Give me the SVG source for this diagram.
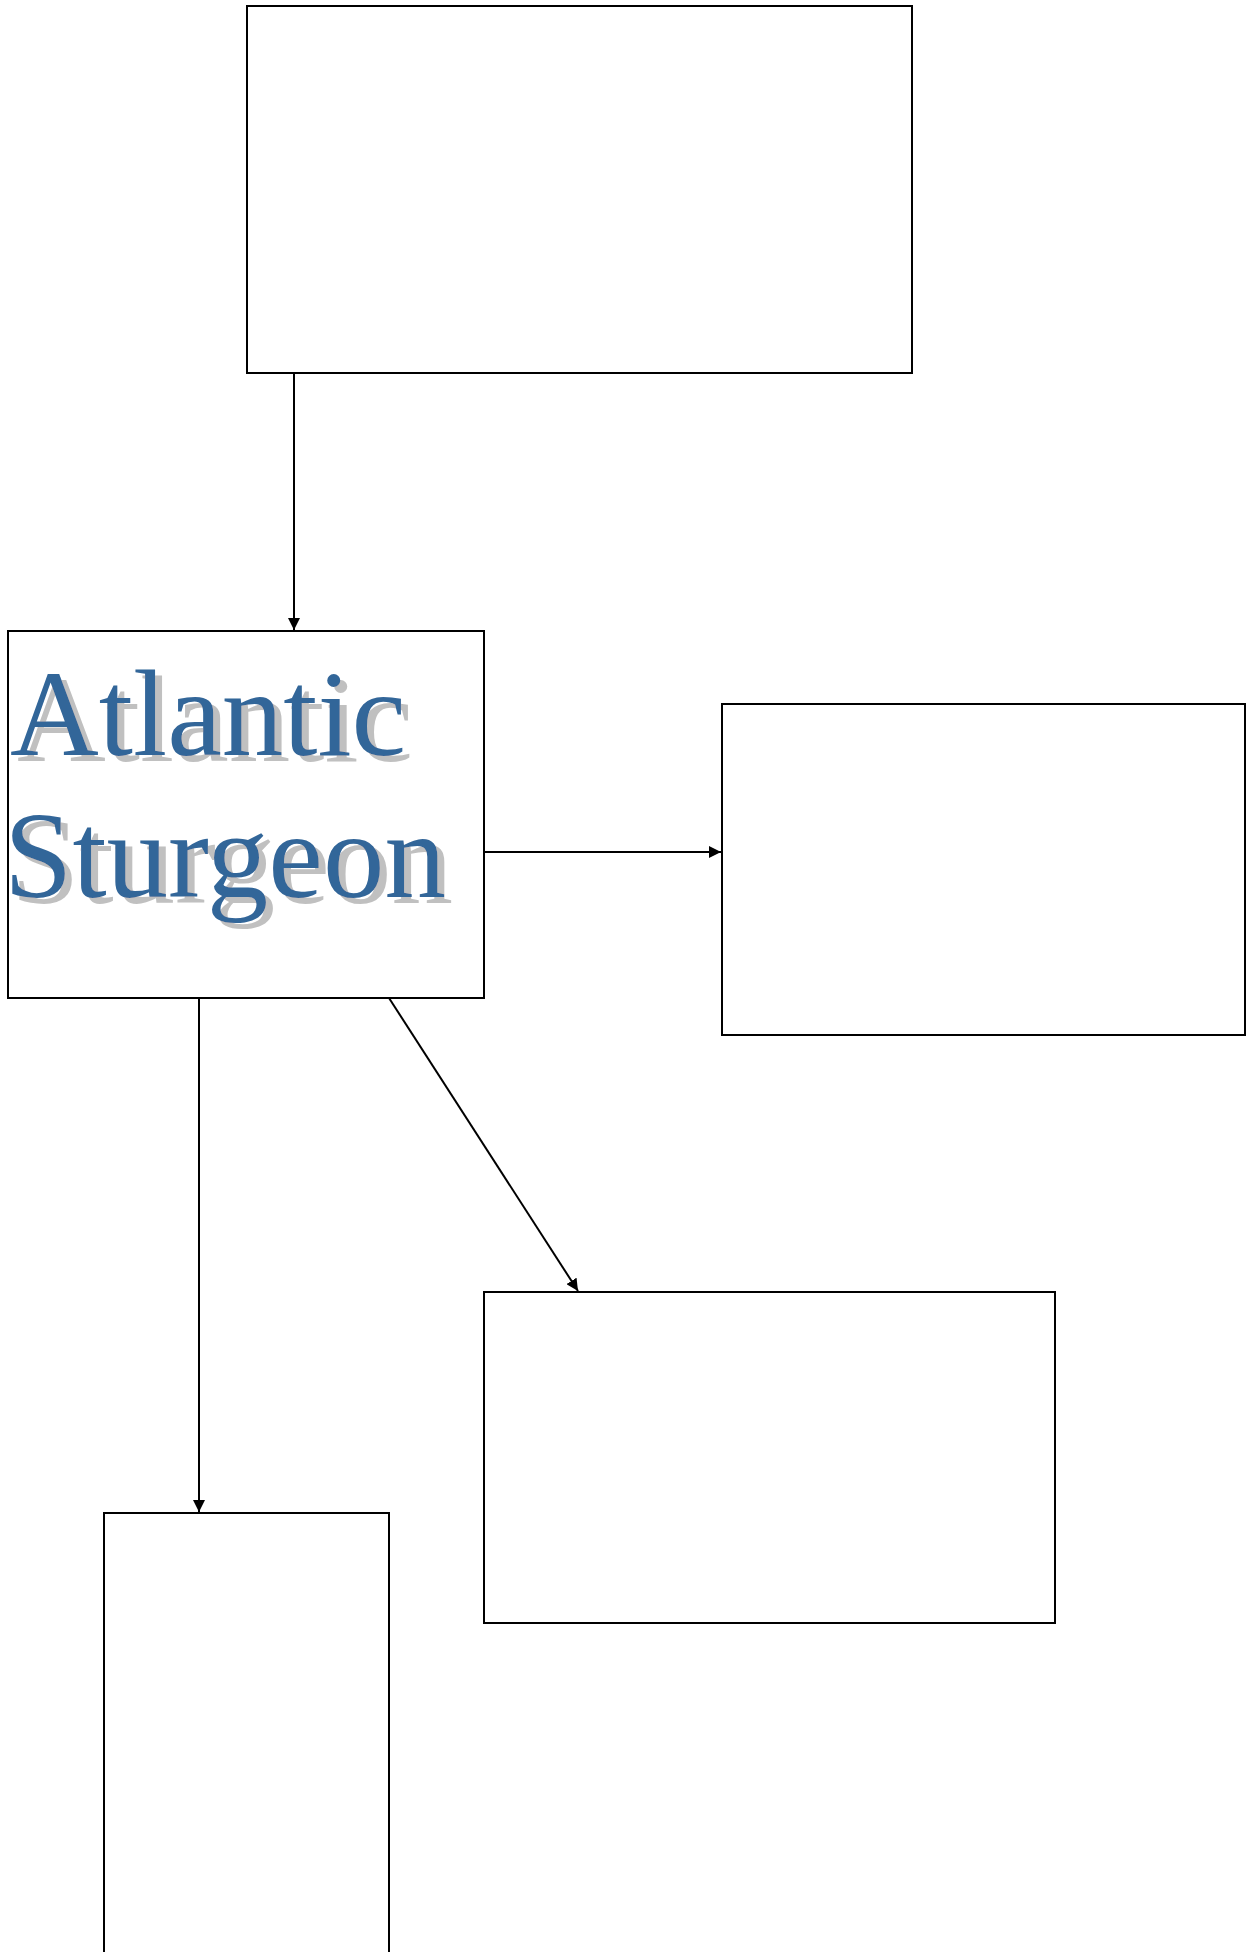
<svg xmlns="http://www.w3.org/2000/svg" width="1247" height="1952" viewBox="0 0 1247 1952">
<style>
.box{fill:#fff;stroke:#000;stroke-width:2}
.conn{stroke:#000;stroke-width:2;fill:none}
.title{font-family:"Liberation Serif","Times New Roman",serif;font-size:123px;fill:#336699;filter:url(#shadow)}
</style>
<defs>
<marker id="arr" viewBox="0 0 10 10" refX="10" refY="5" markerWidth="6" markerHeight="6" orient="auto" markerUnits="strokeWidth">
<path d="M0,0 L10,5 L0,10 z" fill="#000"/>
</marker>
<filter id="shadow" x="-10%" y="-20%" width="130%" height="150%">
<feFlood flood-color="#c0c0c0" result="c"/>
<feComposite in="c" in2="SourceAlpha" operator="in" result="s"/>
<feOffset in="s" dx="7" dy="6" result="o"/>
<feMerge><feMergeNode in="o"/><feMergeNode in="SourceGraphic"/></feMerge>
</filter>
</defs>
<rect width="1247" height="1952" fill="#fff"/>
<g id="node-top"><rect class="box" x="247" y="6" width="665" height="367"/></g>
<g id="node-sturgeon">
<rect class="box" x="8" y="631" width="476" height="367"/>
<text class="title" x="10" y="755">Atlantic</text>
<text class="title" x="4" y="897">Sturgeon</text>
</g>
<g id="node-right"><rect class="box" x="722" y="704" width="523" height="331"/></g>
<g id="node-middle"><rect class="box" x="484" y="1292" width="571" height="331"/></g>
<g id="node-bottom"><rect class="box" x="104" y="1513" width="285" height="460"/></g>
<g id="connectors">
<line class="conn" x1="294" y1="373" x2="294" y2="630" marker-end="url(#arr)"/>
<line class="conn" x1="484" y1="852" x2="721" y2="852" marker-end="url(#arr)"/>
<line class="conn" x1="389" y1="998" x2="578" y2="1291" marker-end="url(#arr)"/>
<line class="conn" x1="199" y1="998" x2="199" y2="1512" marker-end="url(#arr)"/>
</g>
</svg>
